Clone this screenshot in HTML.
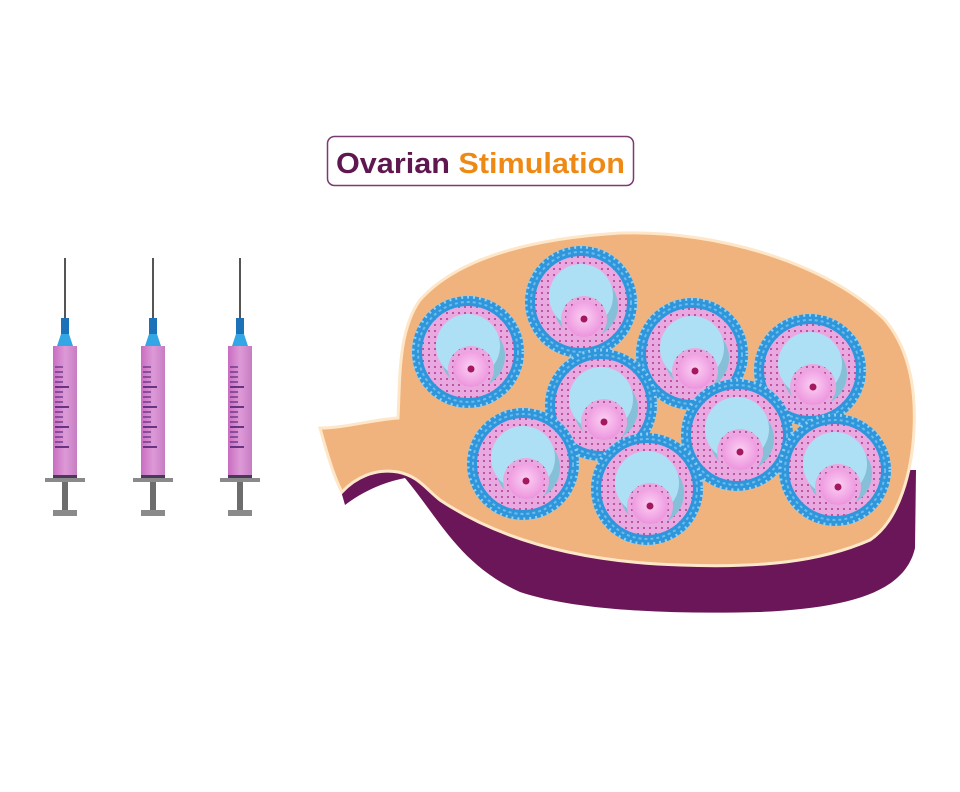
<!DOCTYPE html>
<html><head><meta charset="utf-8"><style>html,body{margin:0;padding:0;background:#fff}svg{display:block}</style></head>
<body>
<svg width="960" height="792" viewBox="0 0 960 792" xmlns="http://www.w3.org/2000/svg">
<defs>
<pattern id="dots" width="6" height="6" patternUnits="userSpaceOnUse">
<rect width="6" height="6" fill="#e9a9e0"/><circle cx="3" cy="3" r="1" fill="#b03c8e"/>
</pattern>
<radialGradient id="oo" cx="0.5" cy="0.45" r="0.6"><stop offset="0" stop-color="#fbd0f3"/><stop offset="1" stop-color="#ec8fdc"/></radialGradient>
<linearGradient id="bar" x1="0" x2="1"><stop offset="0" stop-color="#c86cc0"/><stop offset="0.5" stop-color="#dd9ad7"/><stop offset="1" stop-color="#c77cc2"/></linearGradient>
<g id="syr">
<line x1="0" y1="258" x2="0" y2="322" stroke="#555" stroke-width="2"/>
<rect x="-4" y="318" width="8" height="18" fill="#1b72b8"/>
<polygon points="-4,334 4,334 8,346 -8,346" fill="#33a6e6"/>
<rect x="-12" y="346" width="24" height="132" fill="url(#bar)"/>
<g stroke="#5a2a7a" stroke-width="1.2">
<line x1="-10" y1="367" x2="-2" y2="367"/><line x1="-10" y1="372" x2="-2" y2="372"/><line x1="-10" y1="377" x2="-2" y2="377"/><line x1="-10" y1="382" x2="-2" y2="382"/><line x1="-10" y1="387" x2="4" y2="387" stroke-width="1.8"/>
<line x1="-10" y1="392" x2="-2" y2="392"/><line x1="-10" y1="397" x2="-2" y2="397"/><line x1="-10" y1="402" x2="-2" y2="402"/><line x1="-10" y1="407" x2="4" y2="407" stroke-width="1.8"/>
<line x1="-10" y1="412" x2="-2" y2="412"/><line x1="-10" y1="417" x2="-2" y2="417"/><line x1="-10" y1="422" x2="-2" y2="422"/><line x1="-10" y1="427" x2="4" y2="427" stroke-width="1.8"/>
<line x1="-10" y1="432" x2="-2" y2="432"/><line x1="-10" y1="437" x2="-2" y2="437"/><line x1="-10" y1="442" x2="-2" y2="442"/><line x1="-10" y1="447" x2="4" y2="447" stroke-width="1.8"/>
</g>
<rect x="-12" y="475" width="24" height="3" fill="#4a3a5a"/>
<rect x="-20" y="478" width="40" height="4" fill="#8a8a8a"/>
<rect x="-3" y="482" width="6" height="28" fill="#6d6d6d"/>
<rect x="-12" y="510" width="24" height="6" fill="#8a8a8a"/>
</g>
<g id="fol">
<circle r="56" fill="#2f96dc"/>
<circle r="55" fill="none" stroke="#8fd0f5" stroke-width="3" stroke-dasharray="2 4"/>
<circle r="50" fill="none" stroke="#6cbcec" stroke-width="2" stroke-dasharray="3 3"/>
<circle r="46" fill="url(#dots)"/>
<circle cx="5" cy="4" r="32" fill="#86bfd8"/>
<circle cx="0" cy="-6" r="32" fill="#aee0f5"/>
<circle cx="3" cy="17" r="23" fill="url(#dots)"/>
<circle cx="3" cy="17" r="18" fill="url(#oo)"/>
<circle cx="3" cy="17" r="3.5" fill="#a3185f"/>
</g>
</defs>
<rect x="327.5" y="136.5" width="306" height="49" rx="7" fill="#fff" stroke="#7a3a72" stroke-width="1.5"/>
<text x="336" y="173" font-family="Liberation Sans, sans-serif" font-weight="bold" font-size="29" textLength="289" lengthAdjust="spacingAndGlyphs"><tspan fill="#5f1750">Ovarian </tspan><tspan fill="#ee8a14">Stimulation</tspan></text>
<use href="#syr" x="65"/><use href="#syr" x="153"/><use href="#syr" x="240"/>
<path d="M335,470 L345,505 C365,490 385,482 405,478 C440,520 460,565 520,592 C580,612 680,614 760,612 C850,608 905,592 915,548 L916,470 Z" fill="#6a1658"/>
<path d="M320,428 C345,428 370,420 398,418 C400,380 398,330 420,300 C460,255 540,238 620,233 C720,230 830,265 885,320 C910,350 916,390 914,430 C912,470 900,520 870,540 C820,562 760,568 680,565 C580,562 500,540 440,500 C425,488 418,476 398,472 C375,468 355,478 342,492 C334,478 326,450 320,428 Z" fill="#f1b37e" stroke="#fde7c8" stroke-width="3"/>
<use href="#fol" x="468" y="352"/>
<use href="#fol" x="581" y="302"/>
<use href="#fol" x="692" y="354"/>
<use href="#fol" x="810" y="370"/>
<use href="#fol" x="601" y="405"/>
<use href="#fol" x="523" y="464"/>
<use href="#fol" x="737" y="435"/>
<use href="#fol" x="647" y="489"/>
<use href="#fol" x="835" y="470"/>
</svg>
</body></html>
